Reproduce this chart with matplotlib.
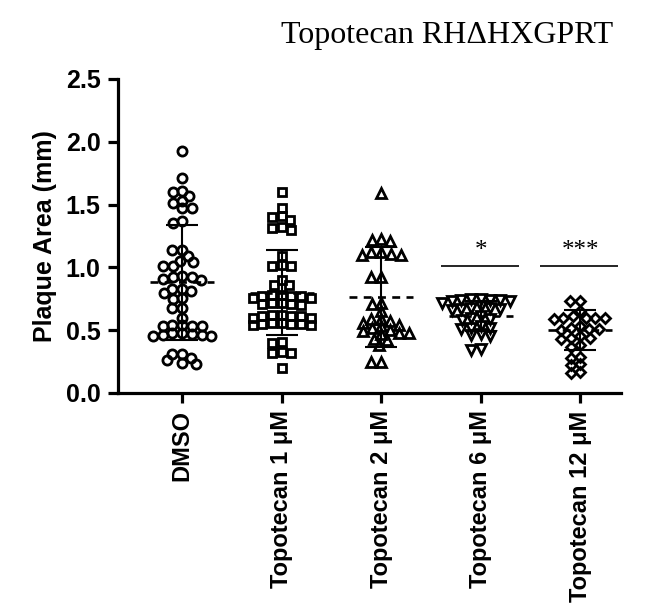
import numpy as np
import matplotlib
matplotlib.use("Agg")
import matplotlib.pyplot as plt

# ---------------- data ----------------
categories = ["DMSO", "Topotecan 1 μM", "Topotecan 2 μM", "Topotecan 6 μM", "Topotecan 12 μM"]

dmso = [1.93, 1.71, 1.61, 1.60, 1.57, 1.53, 1.51, 1.47, 1.47, 1.37, 1.35, 1.14, 1.14,
        1.09, 1.05, 1.04, 1.01, 1.01, 0.93, 0.92, 0.92, 0.91, 0.90, 0.83, 0.83, 0.81,
        0.80, 0.76, 0.75, 0.68, 0.68, 0.60, 0.54, 0.53, 0.53, 0.53, 0.54, 0.48, 0.48,
        0.47, 0.46, 0.46, 0.45, 0.45, 0.31, 0.31, 0.28, 0.26, 0.24, 0.23]

topo_1uM = [1.60, 1.47, 1.41, 1.40, 1.38, 1.32, 1.31, 1.30, 1.09, 1.02, 1.01, 1.01,
            0.90, 0.86, 0.86, 0.78, 0.77, 0.77, 0.76, 0.77, 0.78, 0.76, 0.72, 0.71,
            0.70, 0.71, 0.72, 0.62, 0.61, 0.60, 0.61, 0.62, 0.61, 0.60, 0.55, 0.56,
            0.55, 0.54, 0.55, 0.56, 0.54, 0.40, 0.41, 0.32, 0.33, 0.32, 0.20]

topo_2uM = [1.59, 1.23, 1.22, 1.21, 1.12, 1.12, 1.11, 1.10, 1.10, 0.92, 0.92, 0.72,
            0.71, 0.65, 0.59, 0.59, 0.57, 0.56, 0.54, 0.53, 0.52, 0.50, 0.49, 0.48,
            0.48, 0.47, 0.43, 0.42, 0.38, 0.25, 0.25]

topo_6uM = [0.75, 0.74, 0.74, 0.73, 0.73, 0.72, 0.74, 0.75, 0.68, 0.67, 0.67, 0.66,
            0.68, 0.69, 0.61, 0.60, 0.59, 0.58, 0.53, 0.52, 0.52, 0.51, 0.47, 0.46,
            0.45, 0.35, 0.34]

topo_12uM = [0.73, 0.73, 0.65, 0.61, 0.60, 0.60, 0.60, 0.59, 0.60, 0.52, 0.51, 0.50,
             0.51, 0.53, 0.45, 0.44, 0.43, 0.44, 0.38, 0.37, 0.29, 0.28, 0.22, 0.23,
             0.16, 0.17]

groups = [dmso, topo_1uM, topo_2uM, topo_6uM, topo_12uM]

means = [0.88, 0.80, 0.765, 0.61, 0.50]
sds = [0.46, 0.34, 0.395, 0.12, 0.16]

sig_labels = ["", "", "", "*", "***"]
sig_level = 1.01

title = "Topotecan RH\u0394HXGPRT"
ylabel = "Plaque Area (mm)"
yticks = [0.0, 0.5, 1.0, 1.5, 2.0, 2.5]

# ---------------- style ----------------
markers = ["o", "s", "^", "v", "D"]
msizes = [6.6, 6.0, 7.0, 7.0, 5.0]

W, H, DPI = 6.66, 6.12, 100
fig = plt.figure(figsize=(W, H), dpi=DPI)
ax_left, ax_bottom, ax_w, ax_h = 118 / 666, (612 - 393) / 612, (621 - 118) / 666, (393 - 79) / 612
ax = fig.add_axes([ax_left, ax_bottom, ax_w, ax_h])

xlim = (-0.645, 4.41)
ylim = (0.0, 2.5)
ax.set_xlim(*xlim)
ax.set_ylim(*ylim)

sx = ax_w * W * DPI / (xlim[1] - xlim[0])   # px per x unit
sy = ax_h * H * DPI / (ylim[1] - ylim[0])   # px per y unit


def swarm(vals, dx_px, dy_px):
    """Prism-like scatter: elliptical collision (wide horizontally, short vertically)."""
    vals = np.asarray(vals, float)
    order = np.argsort(-vals, kind="stable")
    placed = []
    xs = np.zeros(len(vals))

    def clash(c, y):
        return any(((c - px) / dx_px) ** 2 + ((y - py) / dy_px) ** 2 < 1 - 1e-6
                   for px, py in placed)

    for idx in order:
        y = vals[idx] * sy
        cands = [0.0]
        for px, py in placed:
            dy = y - py
            if abs(dy) < dy_px:
                dx = dx_px * np.sqrt(1 - (dy / dy_px) ** 2)
                cands += [px + dx, px - dx]
        cands = sorted(cands, key=lambda c: (abs(c), c))
        chosen = cands[-1]
        for c in cands:
            if not clash(c, y):
                chosen = c
                break
        placed.append((chosen, y))
        xs[idx] = chosen / sx
    return xs


for i, vals in enumerate(groups):
    offs = swarm(vals, 9.8, 7.5)
    ax.plot(i + offs, vals, linestyle="none", marker=markers[i], ms=msizes[i],
            mfc="none", mec="black", mew=2.0, zorder=3, clip_on=False)
    m, s = means[i], sds[i]
    ax.vlines(i, m - s, m + s, colors="black", lw=1.5, zorder=4)
    ax.hlines([m - s, m + s], i - 0.16, i + 0.16, colors="black", lw=1.5, zorder=4)
    ax.hlines(m, i - 0.32, i + 0.32, colors="black", lw=1.9,
              linestyles=(0, (3.0, 2.4)), zorder=4)
    if sig_labels[i]:
        ax.hlines(sig_level, i - 0.40, i + 0.38, colors="black", lw=1.2, zorder=4)
        ax.text(i, sig_level + 0.035, sig_labels[i], ha="center", va="bottom",
                fontsize=18, family="Liberation Serif")

for side in ("top", "right"):
    ax.spines[side].set_visible(False)
for side in ("left", "bottom"):
    ax.spines[side].set_linewidth(2.3)

ax.set_yticks(yticks)
ax.set_yticklabels([f"{t:.1f}" for t in yticks])
ax.set_xticks(range(len(categories)))
ax.set_xticklabels(categories, rotation=90)
ax.tick_params(axis="both", direction="out", length=7.5, width=2.3)
ax.tick_params(axis="y", labelsize=18, pad=5)
ax.tick_params(axis="x", labelsize=17, pad=5)
for lab in ax.get_xticklabels() + ax.get_yticklabels():
    lab.set_fontweight("bold")
    lab.set_family("Liberation Sans")

ax.set_ylabel(ylabel, fontsize=18, fontweight="bold", family="Liberation Sans", labelpad=6)

fig.text(447 / 666, 1 - 35 / 612, title, ha="center", va="center",
         fontsize=23, family="Liberation Serif")

fig.savefig("out.png", dpi=DPI)
